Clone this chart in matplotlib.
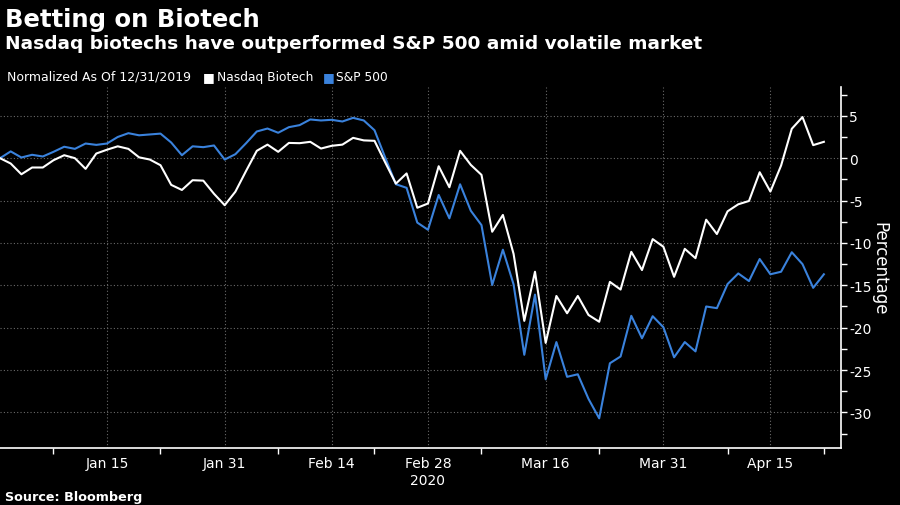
import matplotlib
matplotlib.use('Agg')
import matplotlib.pyplot as plt
import pandas as pd

# trading days, 12/31/2019 .. 4/22/2020 (NYSE holidays removed)
holidays = ['2020-01-01', '2020-01-20', '2020-02-17', '2020-04-10']
dates = [d for d in pd.bdate_range('2019-12-31', '2020-04-22') if d.strftime('%Y-%m-%d') not in holidays]

# normalized as of 12/31/2019, percent
nasdaq_biotech = [0, -0.63, -1.9, -1.1, -1.1, -0.24, 0.35, 0, -1.26, 0.55,
                  1.0, 1.4, 1.1, 0.1, -0.16, -0.83, -3.15, -3.75, -2.6, -2.65,
                  -4.2, -5.55, -3.95, -1.5, 0.87, 1.6, 0.75, 1.8, 1.77, 1.93,
                  1.14, 1.46, 1.6, 2.4, 2.1, 2.05, -0.5, -3.0, -1.8, -5.85,
                  -5.35, -0.95, -3.43, 0.87, -0.79, -1.97, -8.68, -6.7, -11.3, -19.2,
                  -13.4, -21.8, -16.26, -18.3, -16.26, -18.5, -19.3, -14.6, -15.5, -11.05,
                  -13.2, -9.55, -10.45, -14.0, -10.7, -11.8, -7.26, -8.95, -6.27, -5.44,
                  -5.05, -1.66, -3.94, -0.87, 3.47, 4.85, 1.54, 1.93]
sp500 = [0, 0.8, 0.08, 0.4, 0.2, 0.75, 1.35, 1.1, 1.73, 1.57,
         1.73, 2.5, 2.95, 2.7, 2.8, 2.9, 1.85, 0.35, 1.4, 1.3,
         1.5, -0.16, 0.47, 1.77, 3.15, 3.5, 3.0, 3.66, 3.9, 4.57,
         4.45, 4.53, 4.33, 4.76, 4.45, 3.3, 0.08, -3.07, -3.5, -7.6,
         -8.45, -4.34, -7.1, -3.08, -6.2, -7.9, -14.96, -10.8, -14.9, -23.2,
         -16.1, -26.1, -21.7, -25.8, -25.5, -28.4, -30.7, -24.2, -23.4, -18.6,
         -21.25, -18.65, -19.95, -23.5, -21.7, -22.8, -17.5, -17.7, -14.85, -13.6,
         -14.5, -11.9, -13.7, -13.4, -11.1, -12.5, -15.3, -13.7]

tick_dates = ['2020-01-15', '2020-01-31', '2020-02-14', '2020-02-28', '2020-03-16', '2020-03-31', '2020-04-15']
tick_labels = ['Jan 15', 'Jan 31', 'Feb 14', 'Feb 28\n2020', 'Mar 16', 'Mar 31', 'Apr 15']
minor_dates = ['2020-01-08', '2020-01-23', '2020-02-07', '2020-02-21', '2020-03-06', '2020-03-23', '2020-04-08', '2020-04-22']

plt.rcParams['font.family'] = 'DejaVu Sans'
plt.rcParams['axes.unicode_minus'] = False

W, H = 900, 506
fig = plt.figure(figsize=(9, 5.06), dpi=100, facecolor='black')
ax = fig.add_axes([0 / W, 1 - 449 / H, 841 / W, (449 - 88) / H], facecolor='black')

x = list(range(len(dates)))
date_str = [d.strftime('%Y-%m-%d') for d in dates]

ax.plot(x, sp500, color='#3a82dc', lw=1.5, zorder=3)
ax.plot(x, nasdaq_biotech, color='white', lw=1.5, zorder=4)

ax.set_xlim(0, 78.6)
ax.set_ylim(-34.2, 8.4)

ax.set_xticks([date_str.index(d) for d in tick_dates])
ax.set_xticklabels(tick_labels)
ax.set_xticks([date_str.index(d) for d in minor_dates], minor=True)
ax.set_yticks(range(5, -31, -5))
ax.set_yticks([7.5 - 5 * i for i in range(9)], minor=True)

ax.yaxis.tick_right()
ax.yaxis.set_label_position('right')
ax.set_ylabel('Percentage', color='white', fontsize=12, rotation=270, labelpad=12)

ax.tick_params(axis='both', which='both', colors='white', labelsize=10, length=4, width=1)
ax.tick_params(axis='x', which='major', length=0, pad=6)
ax.tick_params(axis='y', pad=2)

ax.grid(True, which='major', color='#6a6a6a', linestyle=(0, (1, 2)), lw=0.8, zorder=0)

for s in ['left', 'top']:
    ax.spines[s].set_visible(False)
for s in ['right', 'bottom']:
    ax.spines[s].set_color('white')
    ax.spines[s].set_linewidth(1.2)

fig.text(5 / W, 1 - 27 / H, 'Betting on Biotech', color='white', fontsize=17.5,
         fontweight='bold', va='baseline')
fig.text(5 / W, 1 - 49 / H, 'Nasdaq biotechs have outperformed S&P 500 amid volatile market',
         color='white', fontsize=13.3, fontweight='bold', va='baseline')

fig.text(7 / W, 1 - 81 / H, 'Normalized As Of 12/31/2019', color='white', fontsize=9, va='baseline')
fig.text(203 / W, 1 - 81 / H, '\u25a0', color='white', fontsize=9, va='baseline')
fig.text(217 / W, 1 - 81 / H, 'Nasdaq Biotech', color='white', fontsize=8.8, va='baseline')
fig.text(323 / W, 1 - 81 / H, '\u25a0', color='#3a82dc', fontsize=9, va='baseline')
fig.text(336 / W, 1 - 81 / H, 'S&P 500', color='white', fontsize=8.8, va='baseline')

fig.text(5 / W, 1 - 501 / H, 'Source: Bloomberg', color='white', fontsize=9.2,
         fontweight='bold', va='baseline')

plt.savefig('out.png', dpi=100, facecolor='black')
